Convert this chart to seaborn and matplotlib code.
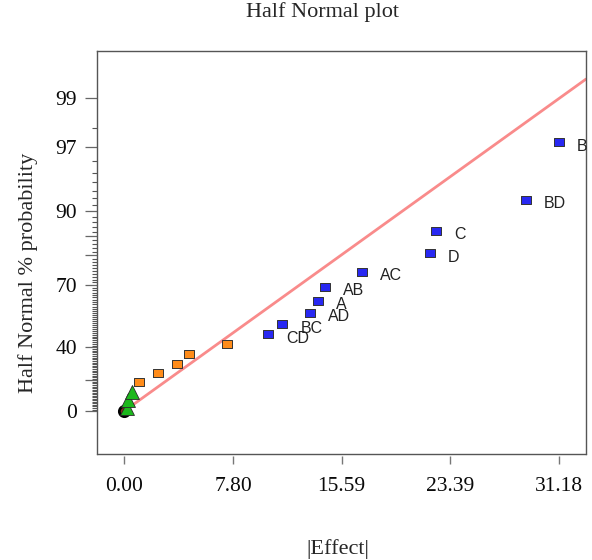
import math
from statistics import NormalDist

import numpy as np
import pandas as pd
import matplotlib
matplotlib.use("Agg")
import matplotlib.pyplot as plt
from matplotlib.ticker import FixedLocator
import seaborn as sns

# |Effect| and half-normal % probability
TERMS = ["CD", "BC", "AD", "A", "AB", "AC", "D", "C", "BD", "B"]
TERM_EFFECT = [10.33, 11.33, 13.32, 13.87, 14.42, 17.03, 21.93, 22.34, 28.80, 31.18]
TERM_PROB = [47.2, 52.6, 58.1, 63.6, 69.4, 74.9, 80.7, 86.2, 91.8, 97.3]

OTHER_EFFECT = [1.05, 2.44, 3.80, 4.64, 7.39]
OTHER_PROB = [19.0, 24.7, 30.1, 35.9, 41.7]

SMALL_EFFECT = [0.17, 0.29, 0.53]
SMALL_PROB = [1.8, 7.2, 12.6]

ERROR_EFFECT = [0.0]
ERROR_PROB = [0.0]

LINE_EFFECT = [0.0, 33.12]
LINE_PROB = [0.0, 99.37]

X_TICKS = [0.00, 7.80, 15.59, 23.39, 31.18]
Y_TICKS = [0, 20, 40, 70, 80, 85, 90, 97, 99]
Y_TICK_LABELS = ["0", "", "40", "70", "", "", "90", "97", "99"]

SERIF = ["Liberation Serif", "DejaVu Serif"]
SANS = ["Liberation Sans", "DejaVu Sans"]

_nd = NormalDist()
_ppf = np.vectorize(lambda v: _nd.inv_cdf((1 + v / 100.0) / 2), otypes=[float])
_cdf = np.vectorize(lambda v: 100.0 * math.erf(v / math.sqrt(2)), otypes=[float])


def to_z(p):
    p = np.clip(np.asarray(p, dtype=float), -99.99999, 99.99999)
    return _ppf(p)


def from_z(z):
    return _cdf(np.asarray(z, dtype=float))


sns.set_style("white")
plt.rcParams["font.family"] = SERIF

fig = plt.figure(figsize=(5.92, 5.6), dpi=100)
ax = fig.add_axes([0.1633, 0.1888, 0.8266, 0.7201])
ax.set_yscale("function", functions=(to_z, from_z))

sns.lineplot(x=LINE_EFFECT, y=LINE_PROB, ax=ax, color="#f98b8b", lw=2.0,
             sort=False, zorder=2)

rect = [(-1.1, -1), (1.1, -1), (1.1, 1), (-1.1, 1), (-1.1, -1)]
sns.scatterplot(x=ERROR_EFFECT, y=ERROR_PROB, ax=ax, marker="o", s=55,
                color="#8b2a1a", edgecolor="black", linewidth=2.0, zorder=3)
sns.scatterplot(x=SMALL_EFFECT, y=SMALL_PROB, ax=ax, marker="^", s=100,
                color="#1cb81c", edgecolor="#2a2a2a", linewidth=0.6, zorder=4)
sns.scatterplot(x=OTHER_EFFECT, y=OTHER_PROB, ax=ax, marker=rect, s=50,
                color="#ff8c1a", edgecolor="#333333", linewidth=0.7, zorder=4)
sns.scatterplot(x=TERM_EFFECT, y=TERM_PROB, ax=ax, marker=rect, s=48,
                color="#2828f2", edgecolor="#333333", linewidth=0.7, zorder=4)

for name, xv, yv in zip(TERMS, TERM_EFFECT, TERM_PROB):
    ax.annotate(name, (xv, yv), xytext=(13, -3), textcoords="offset points",
                ha="left", va="center", fontsize=11.5, family=SANS, color="#222222")

ax.set_xlim(-1.98, 33.12)
ax.set_ylim(-27.8, 99.695)

ax.set_xticks(X_TICKS, labels=[f"{v:.2f}" for v in X_TICKS])
ax.set_yticks(Y_TICKS, labels=Y_TICK_LABELS)
ax.yaxis.set_minor_locator(FixedLocator([p for p in range(1, 99) if p not in Y_TICKS]))

ax.tick_params(axis="x", which="major", direction="out", length=6, width=1,
               color="#777777", pad=9, labelsize=15.5, labelcolor="#0a0a0a",
               bottom=True)
ax.tick_params(axis="y", which="major", direction="out", length=8.6, width=0.9,
               color="#666666", pad=5.5, labelsize=15.5, labelcolor="#0a0a0a",
               left=True)
ax.tick_params(axis="y", which="minor", direction="out", length=3.6, width=0.8,
               color="#555555", left=True)

for side in ["left", "right", "top"]:
    ax.spines[side].set_color("#555555")
    ax.spines[side].set_linewidth(1.0)
ax.spines["bottom"].set_position(("outward", 1.5))
ax.spines["bottom"].set_visible(False)
ax.plot([0, 1], [0, 0], transform=ax.transAxes, color="#555555", lw=1.0,
        clip_on=False, zorder=5)

ax.set_xlabel("|Effect|", fontsize=16)
ax.xaxis.set_label_coords(0.493, -0.235)
ax.xaxis.label.set_va("center")
ax.set_ylabel("Half Normal % probability", fontsize=16)
ax.yaxis.set_label_coords(-0.141, 0.45)
ax.yaxis.label.set_va("center")
ax.set_title("Half Normal plot", fontsize=16, x=0.4625, y=1.077, va="center")

fig.savefig("out.png", dpi=100)
